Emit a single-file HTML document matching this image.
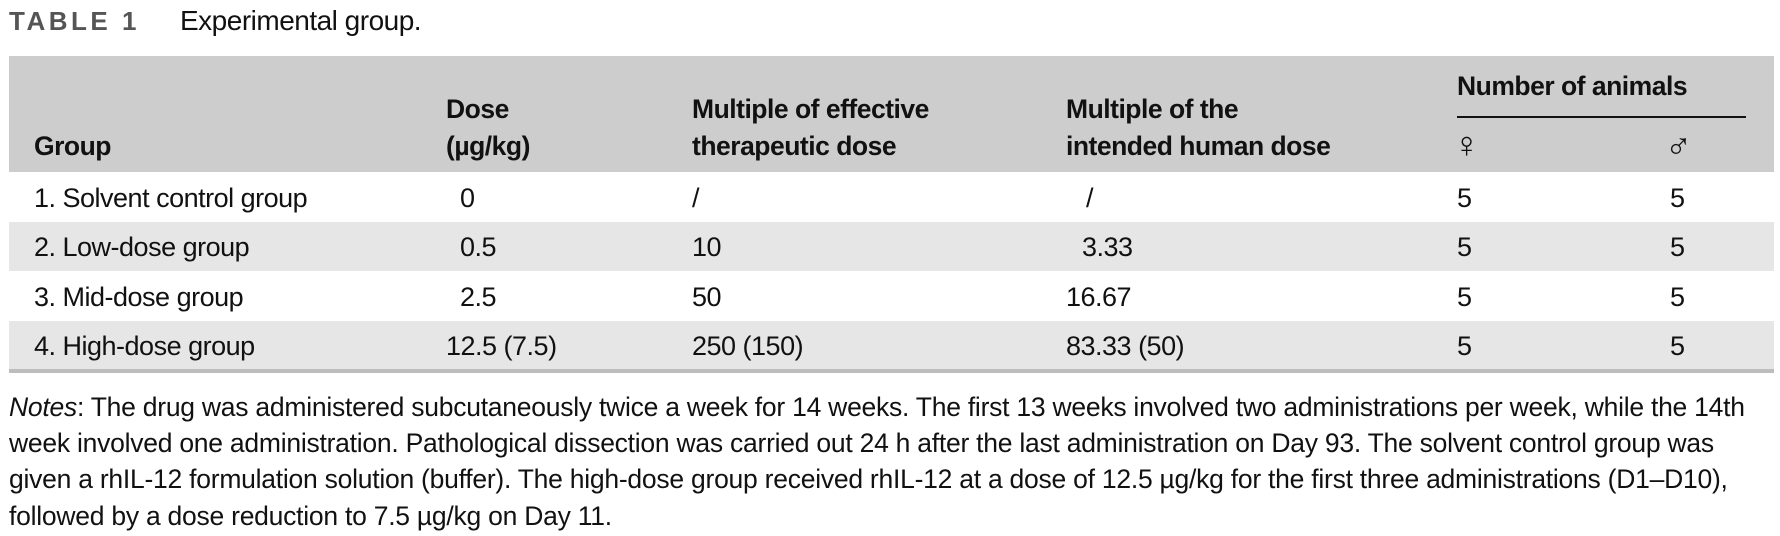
<!DOCTYPE html>
<html><head><style>
body{margin:0;width:1780px;height:536px;background:#fff;font-family:"Liberation Sans",sans-serif;color:#111;position:relative;overflow:hidden}
div,span{position:absolute;white-space:nowrap}
.t{font-size:27px;letter-spacing:-0.5px}
.h{font-size:26.5px;font-weight:bold;letter-spacing:-0.5px}
.n{font-size:26.5px;left:9px;letter-spacing:-0.25px}
.g{font-size:36px;font-weight:bold}
</style></head><body>
<div style="left:9px;top:6px;font-size:26px;font-weight:bold;color:#555;letter-spacing:3.5px">TABLE 1</div>
<div style="left:180px;top:5px;font-size:28px;letter-spacing:-0.5px">Experimental group.</div>
<div style="left:9px;top:56px;width:1765px;height:116px;background:#cdcdcd"></div>
<div style="left:9px;top:222px;width:1765px;height:49px;background:#e6e6e6"></div>
<div style="left:9px;top:321px;width:1765px;height:48px;background:#e6e6e6"></div>
<div style="left:9px;top:369px;width:1765px;height:4px;background:#bdbdbd"></div>
<div style="left:1457px;top:116px;width:289px;height:2px;background:#111"></div>
<div class="h" style="left:1457px;top:71px">Number of animals</div>
<div class="h" style="left:446px;top:94px">Dose</div>
<div class="h" style="left:692px;top:94px">Multiple of effective</div>
<div class="h" style="left:1066px;top:94px">Multiple of the</div>
<div class="h" style="left:34px;top:131px">Group</div>
<div class="h" style="left:446px;top:131px">(µg/kg)</div>
<div class="h" style="left:692px;top:131px">therapeutic dose</div>
<div class="h" style="left:1066px;top:131px">intended human dose</div>
<div class="g" style="left:1453px;top:124px">♀</div>
<div class="g" style="left:1665px;top:124px">♂</div>

<div class="t" style="left:34px;top:183px">1. Solvent control group</div>
<div class="t" style="left:460px;top:183px">0</div>
<div class="t" style="left:692px;top:183px">/</div>
<div class="t" style="left:1086px;top:183px">/</div>
<div class="t" style="left:1457px;top:183px">5</div>
<div class="t" style="left:1670px;top:183px">5</div>

<div class="t" style="left:34px;top:232px">2. Low-dose group</div>
<div class="t" style="left:460px;top:232px">0.5</div>
<div class="t" style="left:692px;top:232px">10</div>
<div class="t" style="left:1082px;top:232px">3.33</div>
<div class="t" style="left:1457px;top:232px">5</div>
<div class="t" style="left:1670px;top:232px">5</div>

<div class="t" style="left:34px;top:282px">3. Mid-dose group</div>
<div class="t" style="left:460px;top:282px">2.5</div>
<div class="t" style="left:692px;top:282px">50</div>
<div class="t" style="left:1066px;top:282px">16.67</div>
<div class="t" style="left:1457px;top:282px">5</div>
<div class="t" style="left:1670px;top:282px">5</div>

<div class="t" style="left:34px;top:331px">4. High-dose group</div>
<div class="t" style="left:446px;top:331px">12.5 (7.5)</div>
<div class="t" style="left:692px;top:331px">250 (150)</div>
<div class="t" style="left:1066px;top:331px">83.33 (50)</div>
<div class="t" style="left:1457px;top:331px">5</div>
<div class="t" style="left:1670px;top:331px">5</div>

<div class="n" style="top:392px"><i>Notes</i>: The drug was administered subcutaneously twice a week for 14 weeks. The first 13 weeks involved two administrations per week, while the 14th</div>
<div class="n" style="top:428px">week involved one administration. Pathological dissection was carried out 24 h after the last administration on Day 93. The solvent control group was</div>
<div class="n" style="top:464px">given a rhIL-12 formulation solution (buffer). The high-dose group received rhIL-12 at a dose of 12.5 µg/kg for the first three administrations (D1–D10),</div>
<div class="n" style="top:501px">followed by a dose reduction to 7.5 µg/kg on Day 11.</div>
</body></html>
